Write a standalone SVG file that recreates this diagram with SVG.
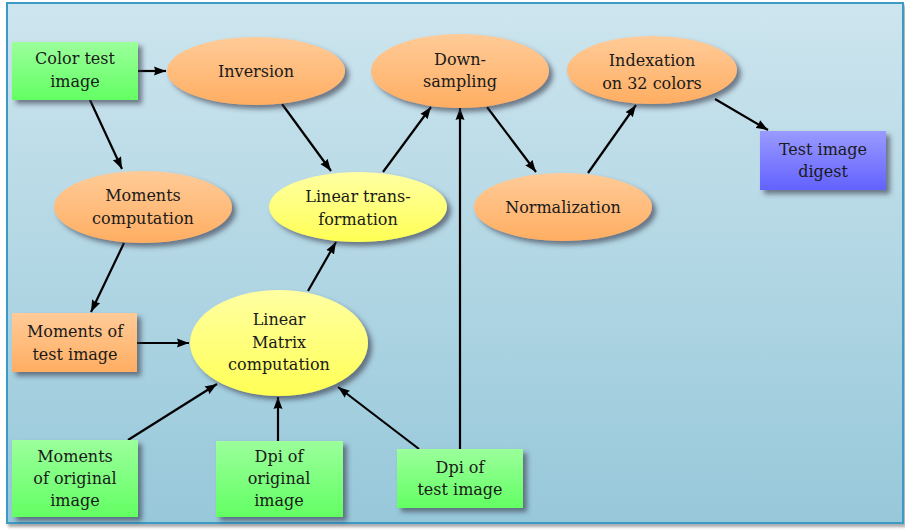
<svg xmlns="http://www.w3.org/2000/svg" width="905" height="530" viewBox="0 0 905 530">
<defs>
<linearGradient id="bg" x1="0" y1="0" x2="0" y2="1"><stop offset="0" stop-color="#cde5ee"/><stop offset="1" stop-color="#97c8da"/></linearGradient>
<linearGradient id="gG" x1="0" y1="0" x2="0" y2="1"><stop offset="0" stop-color="#9bff9b"/><stop offset="1" stop-color="#63ff63"/></linearGradient>
<linearGradient id="gO" x1="0" y1="0" x2="0" y2="1"><stop offset="0" stop-color="#ffcb98"/><stop offset="1" stop-color="#ffae62"/></linearGradient>
<linearGradient id="gY" x1="0" y1="0" x2="0" y2="1"><stop offset="0" stop-color="#ffffa3"/><stop offset="1" stop-color="#ffff55"/></linearGradient>
<linearGradient id="gB" x1="0" y1="0" x2="0" y2="1"><stop offset="0" stop-color="#9a9aff"/><stop offset="1" stop-color="#6262ff"/></linearGradient>
<filter id="sh" x="-20%" y="-20%" width="150%" height="150%"><feDropShadow dx="4" dy="4" stdDeviation="2.5" flood-color="#334" flood-opacity="0.6"/></filter>
<filter id="fsh" x="-5%" y="-5%" width="110%" height="110%"><feDropShadow dx="2" dy="3" stdDeviation="1.5" flood-color="#555" flood-opacity="0.5"/></filter>
<marker id="ah" markerWidth="13" markerHeight="10" refX="12" refY="5" orient="auto" markerUnits="userSpaceOnUse"><path d="M0,0.5 L12,5 L0,9.5 Q2,5 0,0.5 Z" fill="#000"/></marker>
</defs>
<style>
text{font-family:"DejaVu Serif",serif;font-size:16px;fill:#1a1a1a;text-anchor:middle}
.g{fill:url(#gG);filter:url(#sh)}
.o{fill:url(#gO);filter:url(#sh)}
.y{fill:url(#gY);filter:url(#sh)}
.b{fill:url(#gB);filter:url(#sh)}
#edges line{stroke:#000;stroke-width:2.2;marker-end:url(#ah)}
</style>
<rect x="7" y="3" width="896" height="520" fill="url(#bg)" stroke="#3b9bc6" stroke-width="2" filter="url(#fsh)"/>
<g id="edges">
<line x1="138" y1="71" x2="166" y2="71"/>
<line x1="90" y1="100" x2="122" y2="169"/>
<line x1="282" y1="104" x2="331" y2="171"/>
<line x1="383" y1="172" x2="431" y2="107"/>
<line x1="487" y1="107" x2="536" y2="172"/>
<line x1="588" y1="173" x2="636" y2="105"/>
<line x1="715" y1="99" x2="768" y2="130"/>
<line x1="124" y1="243" x2="91" y2="312"/>
<line x1="137" y1="343" x2="189" y2="343"/>
<line x1="308" y1="291" x2="336" y2="242"/>
<line x1="128" y1="440" x2="217" y2="384"/>
<line x1="278" y1="441" x2="278" y2="397"/>
<line x1="419" y1="449" x2="338" y2="387"/>
<line x1="460" y1="449" x2="460" y2="108"/>
</g>
<g id="color-test-image"><rect class="g" x="12" y="42" width="126" height="58"/><text x="75" y="64">Color test</text><text x="75" y="87">image</text></g>
<g id="inversion"><ellipse class="o" cx="256" cy="71" rx="89" ry="34"/><text x="256" y="77">Inversion</text></g>
<g id="down-sampling"><ellipse class="o" cx="460" cy="71" rx="89" ry="37"/><text x="460" y="65">Down-</text><text x="460" y="87">sampling</text></g>
<g id="indexation"><ellipse class="o" cx="652" cy="70" rx="85" ry="34"/><text x="652" y="66">Indexation</text><text x="652" y="89">on 32 colors</text></g>
<g id="test-image-digest"><rect class="b" x="760" y="131" width="126" height="59"/><text x="823" y="155">Test image</text><text x="823" y="177">digest</text></g>
<g id="moments-computation"><ellipse class="o" cx="143" cy="207" rx="89" ry="36"/><text x="143" y="201">Moments</text><text x="143" y="224">computation</text></g>
<g id="linear-transformation"><ellipse class="y" cx="358" cy="207" rx="89" ry="35"/><text x="358" y="202">Linear trans-</text><text x="358" y="225">formation</text></g>
<g id="normalization"><ellipse class="o" cx="563" cy="207" rx="89" ry="34"/><text x="563" y="213">Normalization</text></g>
<g id="moments-of-test-image"><rect class="o" x="12" y="313" width="125" height="59"/><text x="75" y="337">Moments of</text><text x="75" y="360">test image</text></g>
<g id="linear-matrix-computation"><ellipse class="y" cx="279" cy="343" rx="89" ry="53"/><text x="279" y="325">Linear</text><text x="279" y="348">Matrix</text><text x="279" y="370">computation</text></g>
<g id="moments-of-original-image"><rect class="g" x="12" y="440" width="126" height="77"/><text x="75" y="462">Moments</text><text x="75" y="484">of original</text><text x="75" y="506">image</text></g>
<g id="dpi-of-original-image"><rect class="g" x="216" y="441" width="127" height="76"/><text x="279" y="462">Dpi of</text><text x="279" y="484">original</text><text x="279" y="506">image</text></g>
<g id="dpi-of-test-image"><rect class="g" x="397" y="449" width="126" height="59"/><text x="460" y="473">Dpi of</text><text x="460" y="495">test image</text></g>
</svg>
